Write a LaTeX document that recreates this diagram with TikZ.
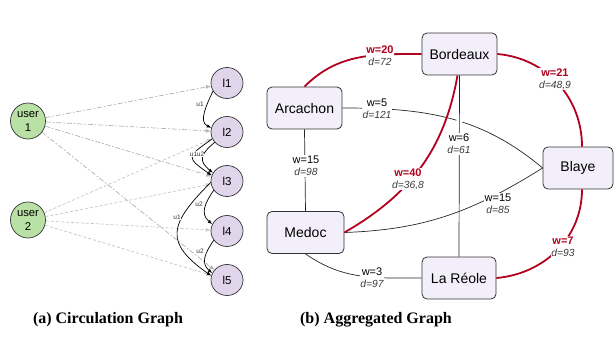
\documentclass[tikz,border=0pt]{standalone}
\usepackage{fontspec}
\setmainfont{Liberation Serif}
\setsansfont{Liberation Sans}
\usetikzlibrary{arrows.meta,shapes.geometric}

\definecolor{wred}{RGB}{178,0,30}
\definecolor{dgray}{RGB}{60,60,60}
\definecolor{ugreen}{RGB}{185,224,165}
\definecolor{lpurple}{RGB}{225,213,235}
\definecolor{cityfill}{RGB}{243,239,250}

% two-line edge label: weight (bold red) over distance (italic gray)
\newcommand\edgelab[2]{{\bfseries\color{wred}#1}\\{\itshape\fontsize{10.3}{12}\selectfont\color{dgray}#2}}

\begin{document}
\begin{tikzpicture}[x=1pt,y=1pt,font=\sffamily,
  usernode/.style={ellipse,draw=black!80,fill=ugreen,line width=0.7pt,
    minimum width=35pt,minimum height=36pt,inner sep=0pt,align=center,
    font=\sffamily\fontsize{11.3}{14}\selectfont},
  locnode/.style={ellipse,draw=black!80,fill=lpurple,line width=0.7pt,
    minimum width=32pt,minimum height=31pt,inner sep=0pt,
    font=\sffamily\fontsize{11.5}{12}\selectfont},
  city/.style={rectangle,rounded corners=5pt,draw=black!80,fill=cityfill,
    line width=0.8pt,minimum width=75pt,minimum height=42pt,
    font=\sffamily\fontsize{14}{14}\selectfont},
  visitone/.style={draw=gray!60,line width=0.7pt,
    dash pattern=on 5pt off 2pt on 1.5pt off 2pt,
    -{Latex[length=5pt,width=4pt]}},
  visittwo/.style={draw=gray!45,line width=0.7pt,dash pattern=on 3pt off 2pt,
    -{Latex[length=5pt,width=4pt]}},
  move/.style={draw=black,line width=0.7pt,-{Latex[length=4.5pt,width=3.5pt]}},
  mlabel/.style={fill=white,inner sep=0.3pt,text=black!80,
    font=\sffamily\fontsize{6.5}{7}\selectfont},
  heavy/.style={draw=wred,line width=1.8pt},
  light/.style={draw=black!85,line width=0.7pt},
  elabel/.style={fill=white,inner sep=0.8pt,align=center,
    font=\sffamily\fontsize{11}{12}\selectfont},
  caption/.style={font=\rmfamily\bfseries\fontsize{16}{18}\selectfont}]

\useasboundingbox (0,0) rectangle (616,-337);

% ---------- circulation graph ----------
\node[usernode] (u1) at (28,-121) {user\\1};
\node[usernode] (u2) at (28,-220) {user\\2};
\node[locnode] (l1) at (227,-83) {l1};
\node[locnode] (l2) at (227,-132) {l2};
\node[locnode] (l3) at (227,-181) {l3};
\node[locnode] (l4) at (227,-231) {l4};
\node[locnode] (l5) at (227,-280) {l5};

\draw[visitone] (u1) -- (l1);
\draw[visitone] (u1) -- (l2);
\draw[visitone] (u1) -- (l3);
\draw[visitone] (u1) -- (l5);
\draw[visittwo] (u2) -- (l2);
\draw[visittwo] (u2) -- (l3);
\draw[visittwo] (u2) -- (l4);
\draw[visittwo] (u2) -- (l5);

\draw[move] (l1.210) to[out=245,in=155] (l2.165);
\draw[move] (l2.205) to[out=215,in=145,looseness=2.2] (l3.160);
\draw[move] (l2.220) to[out=220,in=140,looseness=1.6] (l3.150);
\draw[move] (l3.185) to[out=225,in=145,looseness=1.6] (l5.165);
\draw[move] (l3.215) to[out=235,in=140,looseness=1.2] (l4.155);
\draw[move] (l4.215) to[out=235,in=140,looseness=1.2] (l5.155);

\node[mlabel] (m12) at (200,-104) {u1};
\node[mlabel] (m23a) at (193.5,-154) {u1};
\node[mlabel] (m23b) at (200.5,-154) {u2};
\node[mlabel] (m35) at (177,-217) {u1};
\node[mlabel] (m34) at (199,-204) {u2};
\node[mlabel] (m45) at (200,-251) {u2};

% ---------- aggregated graph ----------
\node[city] (arc) at (304.5,-108) {Arcachon};
\node[city] (bor) at (459.5,-54) {Bordeaux};
\node[city,minimum width=70pt] (bla) at (578,-168) {Blaye};
\node[city,minimum width=77pt] (med) at (305.5,-232.5) {Medoc};
\node[city,minimum width=74pt] (lar) at (459,-278) {La Réole};

\draw[light] (arc.south) -- (med.north);
\draw[light] (arc.east) to[out=0,in=140] (bla.west);
\draw[light] (med.east) to[out=2,in=-148] (bla.west);
\draw[light] (med.south) to[out=-35,in=180] (lar.west);
% line jump where the Arcachon--Blaye edge crosses the vertical edge
\begin{scope}
  \clip (449,-113) rectangle (469,-129);
  \draw[white,line width=6pt] (bor.south) -- (lar.north);
\end{scope}
\draw[light] (bor.south) -- (lar.north);

\draw[heavy] (arc.north) to[out=45,in=180] (bor.west);
\draw[heavy] (bor.east) to[out=-5,in=90] ([xshift=4pt]bla.north);
\draw[heavy] ([xshift=-2pt]bor.south) to[out=-100,in=30] (med.east);
\draw[heavy] ([xshift=4pt]bla.south) to[out=-90,in=5] (lar.east);

\node[elabel] (e1) at (380,-56) {\edgelab{w=20}{d=72}};
\node[elabel] (e2) at (555,-79) {\edgelab{w=21}{d=48,9}};
\node[elabel] (e3) at (408,-179) {\edgelab{w=40}{d=36,8}};
\node[elabel] (e4) at (563,-247) {\edgelab{w=7}{d=93}};
\node[elabel] (e5) at (377,-109) {w=5\\{\itshape\fontsize{10.3}{12}\selectfont\color{dgray}d=121}};
\node[elabel] (e6) at (459,-144) {w=6\\{\itshape\fontsize{10.3}{12}\selectfont\color{dgray}d=61}};
\node[elabel] (e7) at (306,-166) {w=15\\{\itshape\fontsize{10.3}{12}\selectfont\color{dgray}d=98}};
\node[elabel] (e8) at (498,-204) {w=15\\{\itshape\fontsize{10.3}{12}\selectfont\color{dgray}d=85}};
\node[elabel] (e9) at (372,-278) {w=3\\{\itshape\fontsize{10.3}{12}\selectfont\color{dgray}d=97}};

% ---------- captions ----------
\node[caption] (capa) at (108,-320) {(a) Circulation Graph};
\node[caption] (capb) at (376,-320) {(b) Aggregated Graph};
\end{tikzpicture}
\end{document}
